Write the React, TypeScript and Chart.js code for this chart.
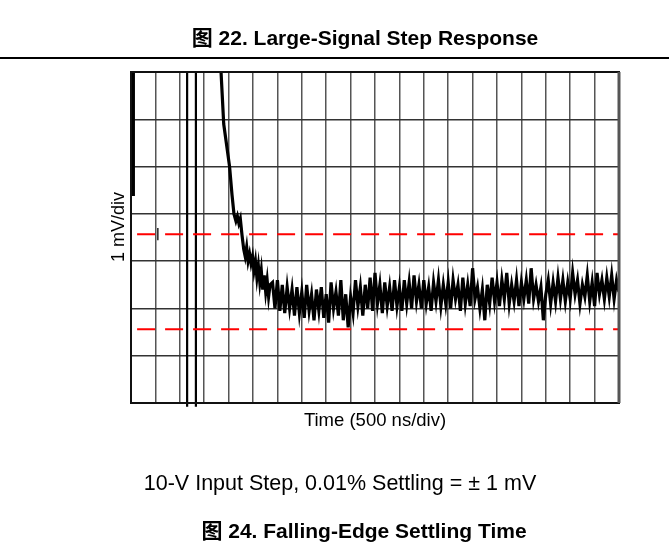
import React, { useEffect, useRef } from "react";
import { Chart, registerables } from "chart.js";

Chart.register(...registerables);

// Time in divisions (500 ns/div), voltage in divisions (1 mV/div)
const stepTime = [3.66, 3.8, 3.92, 4.04, 4.14, 4.22, 4.3, 4.36, 4.42, 4.48, 4.55, 4.62, 4.68, 4.74, 4.8, 4.86, 4.92, 4.98, 5.04, 5.1, 5.16, 5.22, 5.28, 5.34, 5.4, 5.46, 5.52, 5.58, 5.64, 5.7];
const stepValue = [7.3, 5.9, 5.45, 5.0, 4.4, 4.0, 3.85, 3.95, 3.8, 3.9, 3.55, 3.25, 3.1, 3.3, 3.0, 3.15, 2.95, 3.1, 2.8, 3.0, 2.65, 2.9, 2.55, 2.8, 2.4, 2.7, 2.35, 2.6, 2.25, 2.5];

const noiseTime = [
  5.8, 5.9, 6.0, 6.1, 6.2, 6.3, 6.4, 6.5, 6.6, 6.7,
  6.8, 6.9, 7.0, 7.1, 7.2, 7.3, 7.4, 7.5, 7.6, 7.7,
  7.8, 7.9, 8.0, 8.1, 8.2, 8.3, 8.4, 8.5, 8.6, 8.7,
  8.8, 8.9, 9.0, 9.1, 9.2, 9.3, 9.4, 9.5, 9.6, 9.7,
  9.8, 9.9, 10.0, 10.1, 10.2, 10.3, 10.4, 10.5, 10.6, 10.7,
  10.8, 10.9, 11.0, 11.1, 11.2, 11.3, 11.4, 11.5, 11.6, 11.7,
  11.8, 11.9, 12.0, 12.1, 12.2, 12.3, 12.4, 12.5, 12.6, 12.7,
  12.8, 12.9, 13.0, 13.1, 13.2, 13.3, 13.4, 13.5, 13.6, 13.7,
  13.8, 13.9, 14.0, 14.1, 14.2, 14.3, 14.4, 14.5, 14.6, 14.7,
  14.8, 14.9, 15.0, 15.1, 15.2, 15.3, 15.4, 15.5, 15.6, 15.7,
  15.8, 15.9, 16.0, 16.1, 16.2, 16.3, 16.4, 16.5, 16.6, 16.7,
  16.8, 16.9, 17.0, 17.1, 17.2, 17.3, 17.4, 17.5, 17.6, 17.7,
  17.8, 17.9, 18.0, 18.1, 18.2, 18.3, 18.4, 18.5, 18.6, 18.7,
  18.8, 18.9, 19.0, 19.1, 19.2, 19.3, 19.4, 19.5, 19.6, 19.7,
  19.8, 19.9, 20.0,
];
const noiseValue = [
  2.55, 2.0, 2.6, 1.95, 2.5, 1.9, 2.45, 2.0, 2.4, 1.85,
  2.45, 1.9, 2.35, 1.8, 2.5, 1.95, 2.3, 1.75, 2.4, 1.95,
  2.45, 1.8, 2.3, 1.7, 2.55, 2.0, 2.35, 1.85, 2.6, 1.75,
  2.3, 1.6, 2.25, 1.9, 2.6, 2.05, 2.45, 1.85, 2.5, 2.0,
  2.65, 1.95, 2.75, 2.1, 2.5, 1.9, 2.55, 2.05, 2.45, 1.95,
  2.6, 2.05, 2.45, 1.95, 2.6, 2.1, 2.55, 2.0, 2.7, 2.15,
  2.5, 2.0, 2.6, 2.1, 2.45, 1.95, 2.55, 2.15, 2.6, 2.05,
  2.5, 2.1, 2.55, 2.0, 2.6, 2.2, 2.5, 1.95, 2.65, 2.1,
  2.5, 2.05, 2.85, 2.2, 2.45, 2.0, 2.4, 1.75, 2.5, 2.1,
  2.65, 2.15, 2.55, 2.05, 2.6, 2.2, 2.75, 2.1, 2.5, 2.15,
  2.6, 2.05, 2.55, 2.2, 2.6, 2.1, 2.85, 2.2, 2.5, 2.15,
  2.45, 1.75, 2.3, 2.6, 2.1, 2.55, 2.15, 2.65, 2.2, 2.6,
  2.15, 2.55, 2.2, 2.75, 2.3, 2.6, 2.1, 2.5, 2.25, 2.7,
  2.15, 2.55, 2.05, 2.75, 2.3, 2.6, 2.2, 2.65, 2.25, 2.7,
  2.2, 2.6, 2.35,
];

// ±1 mV settling band limits
const bandUpper = 3.57;
const bandLower = 1.56;
const bandStart = 0.25;

// Early trace segment at left edge
const leftTraceTime = [0.08, 0.08];
const leftTraceValue = [7.0, 4.38];

// Trigger/cursor vertical lines
const cursorA = 2.3;
const cursorB = 2.66;
const markerTime = 1.1;

const FONT = "'Liberation Sans', Arial, 'Noto Sans CJK SC', sans-serif";

function Label(props: { cx: number; cy: number; text: string; size: number; bold?: boolean; rotate?: boolean }) {
  const { cx, cy, text, size, bold, rotate } = props;
  const w = 600;
  return (
    <div
      style={{
        position: "absolute",
        left: cx - w / 2,
        top: cy - size,
        width: w,
        height: size * 2,
        lineHeight: size * 2 + "px",
        textAlign: "center",
        fontFamily: FONT,
        fontSize: size,
        fontWeight: bold ? 700 : 400,
        color: "#000",
        whiteSpace: "nowrap",
        transform: rotate ? "rotate(-90deg)" : undefined,
        transformOrigin: "50% 50%",
      }}
    >
      {text}
    </div>
  );
}

export default function App() {
  const ref = useRef<HTMLCanvasElement | null>(null);

  useEffect(() => {
    if (!ref.current) return;
    const trace = [
      ...stepTime.map((t, i) => ({ x: t, y: stepValue[i] })),
      ...noiseTime.map((t, i) => ({ x: t, y: noiseValue[i] })),
    ];
    const frame = {
      id: "frame",
      afterDraw(chart: any) {
        const { ctx, chartArea } = chart;
        ctx.save();
        ctx.strokeStyle = "#111";
        ctx.lineWidth = 2;
        ctx.strokeRect(chartArea.left, chartArea.top, chartArea.right - chartArea.left, chartArea.bottom - chartArea.top);
        ctx.strokeStyle = "#555";
        ctx.lineWidth = 3;
        ctx.beginPath();
        ctx.moveTo(chartArea.right, chartArea.top);
        ctx.lineTo(chartArea.right, chartArea.bottom);
        ctx.stroke();
        ctx.restore();
      },
    };
    const chart = new Chart(ref.current, {
      type: "line",
      data: {
        datasets: [
          {
            data: [{ x: bandStart, y: bandUpper }, { x: 20, y: bandUpper }],
            borderColor: "#ff0000",
            borderWidth: 2,
            borderDash: [18, 10],
            pointRadius: 0,
          },
          {
            data: [{ x: bandStart, y: bandLower }, { x: 20, y: bandLower }],
            borderColor: "#ff0000",
            borderWidth: 2,
            borderDash: [18, 10],
            pointRadius: 0,
          },
          {
            data: leftTraceTime.map((t, i) => ({ x: t, y: leftTraceValue[i] })),
            borderColor: "#000",
            borderWidth: 4,
            pointRadius: 0,
          },
          {
            data: [{ x: cursorA, y: -0.08 }, { x: cursorA, y: 7 }],
            borderColor: "#000",
            borderWidth: 2.2,
            pointRadius: 0,
            clip: false,
          },
          {
            data: [{ x: cursorB, y: -0.08 }, { x: cursorB, y: 7 }],
            borderColor: "#000",
            borderWidth: 2.2,
            pointRadius: 0,
            clip: false,
          },
          {
            data: [{ x: markerTime, y: 3.44 }, { x: markerTime, y: 3.7 }],
            borderColor: "#222",
            borderWidth: 1.5,
            pointRadius: 0,
          },
          {
            data: trace,
            borderColor: "#000",
            borderWidth: 3.2,
            pointRadius: 0,
            tension: 0,
          },
        ],
      },
      options: {
        animation: false,
        responsive: false,
        events: [],
        layout: { padding: { left: 131, top: 72, right: 50, bottom: 143 } },
        plugins: { legend: { display: false }, tooltip: { enabled: false }, title: { display: false } },
        scales: {
          x: {
            type: "linear",
            min: 0,
            max: 20,
            ticks: { display: false, stepSize: 1 },
            grid: { color: "#555", lineWidth: 1.5, drawTicks: false },
            border: { display: true, color: "#222", width: 2 },
          },
          y: {
            type: "linear",
            min: 0,
            max: 7,
            ticks: { display: false, stepSize: 1 },
            grid: { color: "#333", lineWidth: 1.5, drawTicks: false },
            border: { display: true, color: "#000", width: 2 },
          },
        },
      },
      plugins: [frame],
    });
    return () => chart.destroy();
  }, []);

  return (
    <div style={{ position: "absolute", left: 0, top: 0, width: 669, height: 546, background: "#fff", overflow: "hidden" }}>
      <canvas ref={ref} width={669} height={546} style={{ position: "absolute", left: 0, top: 0 }} />
      <div style={{ position: "absolute", left: 0, top: 57, width: 669, height: 2, background: "#000" }} />
      <Label cx={365} cy={38} text="图 22. Large-Signal Step Response" size={21} bold />
      <Label cx={118} cy={227} text="1 mV/div" size={18} rotate />
      <Label cx={375} cy={419} text="Time (500 ns/div)" size={18.5} />
      <Label cx={340} cy={483} text="10-V Input Step, 0.01% Settling = ± 1 mV" size={21.5} />
      <Label cx={364} cy={531} text="图 24. Falling-Edge Settling Time" size={21} bold />
    </div>
  );
}
